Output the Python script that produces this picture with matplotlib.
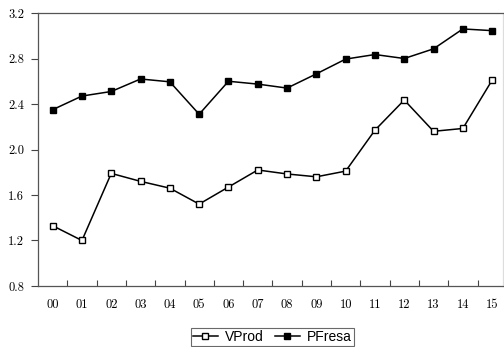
import numpy as np
import matplotlib.pyplot as plt

# ---------------------------------------------------------------
#                       DATA
# ---------------------------------------------------------------

years = ["00", "01", "02", "03", "04", "05", "06", "07",
         "08", "09", "10", "11", "12", "13", "14", "15"]

vprod = [1.33, 1.20, 1.79, 1.72, 1.66, 1.52, 1.67, 1.82,
         1.785, 1.76, 1.81, 2.17, 2.435, 2.16, 2.185, 2.61]

pfresa = [2.35, 2.47, 2.51, 2.62, 2.595, 2.31, 2.60, 2.575,
          2.54, 2.665, 2.795, 2.835, 2.80, 2.885, 3.06, 3.045]

yticks = [0.8, 1.2, 1.6, 2.0, 2.4, 2.8, 3.2]

# ---------------------------------------------------------------
#                       PLOT
# ---------------------------------------------------------------

plt.rcParams["font.family"] = "cmr10"
plt.rcParams["axes.formatter.use_mathtext"] = True

fig = plt.figure(figsize=(5.04, 3.47), dpi=100)
ax = fig.add_axes([0.0754, 0.1758, 0.9226, 0.7867])

x = np.arange(len(years))
ax.plot(x, vprod, color="black", linewidth=1.1, marker="s", markersize=4,
        markerfacecolor="white", markeredgecolor="black", markeredgewidth=1.0,
        label="VProd")
ax.plot(x, pfresa, color="black", linewidth=1.1, marker="s", markersize=4.6,
        markerfacecolor="black", markeredgecolor="black", label="PFresa")

ax.set_xlim(-0.5, 15.37)
ax.set_ylim(0.8, 3.2)
ax.set_yticks(yticks)
ax.set_yticklabels(["%.1f" % v for v in yticks])

# category labels at the points, tick marks between them
ax.set_xticks(x)
ax.set_xticklabels(years)
ax.tick_params(axis="x", which="major", length=0, pad=9, labelsize=9)
ax.set_xticks(np.arange(0.5, 15, 1.0), minor=True)
ax.tick_params(axis="x", which="minor", direction="in", length=4,
               width=0.8, color="#444444")
ax.tick_params(axis="y", direction="out", length=5, width=0.8,
               color="#444444", labelsize=9, pad=5)

for s in ax.spines.values():
    s.set_color("#555555")
    s.set_linewidth(0.9)
ax.spines["right"].set_color("#dddddd")

leg = fig.legend(loc="center", bbox_to_anchor=(0.54, 0.03), ncol=2,
                 frameon=True, fancybox=False, edgecolor="#444444",
                 handlelength=1.8, handletextpad=0.5, columnspacing=0.8,
                 borderpad=0.15, borderaxespad=0,
                 prop={"family": "Liberation Sans", "size": 10})
leg.get_frame().set_linewidth(0.8)

plt.savefig("out.png", dpi=100)
plt.close()
